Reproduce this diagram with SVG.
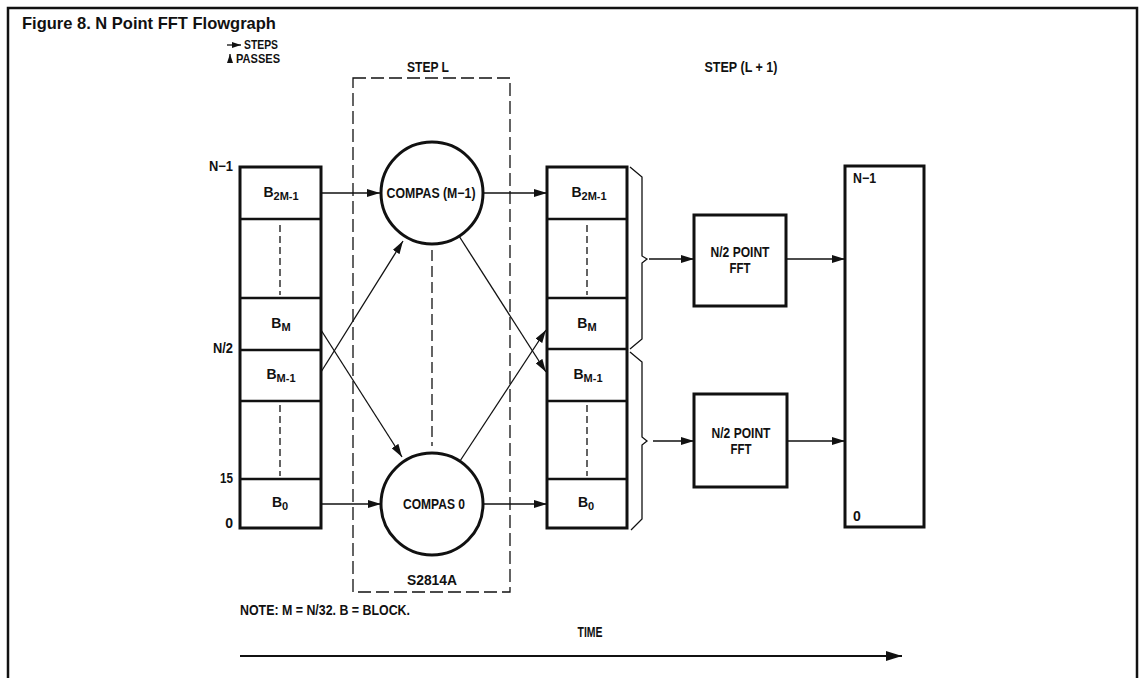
<svg xmlns="http://www.w3.org/2000/svg" width="1140" height="678" viewBox="0 0 1140 678">
<defs>
<marker id="ah" markerUnits="userSpaceOnUse" markerWidth="13" markerHeight="8" refX="13" refY="4" orient="auto"><path d="M0,0 L13,4 L0,8 z" fill="#111"/></marker>
<marker id="ahs" markerUnits="userSpaceOnUse" markerWidth="9" markerHeight="6" refX="9" refY="3" orient="auto"><path d="M0,0 L9,3 L0,6 z" fill="#111"/></marker>
<marker id="ahb" markerUnits="userSpaceOnUse" markerWidth="16" markerHeight="10" refX="16" refY="5" orient="auto"><path d="M0,0 L16,5 L0,10 z" fill="#111"/></marker>
</defs>
<style>
.t{font-family:"Liberation Sans",Arial,sans-serif;font-weight:bold;font-size:14px;fill:#111}
.lg{font-size:12px}
.m{text-anchor:middle}
.e{text-anchor:end}
.sub{font-size:11px}
.box{fill:#fff;stroke:#111;stroke-width:3}
.div{stroke:#111;stroke-width:2.5}
.dash{stroke:#111;stroke-width:1.3;stroke-dasharray:7 4;fill:none}
.con{stroke:#111;stroke-width:1.3;fill:none;marker-end:url(#ah)}
.brace{stroke:#111;stroke-width:1.3;fill:none}
</style>
<rect width="1140" height="678" fill="#fff"/>
<path d="M8,680 V8 H1137 V680" fill="none" stroke="#111" stroke-width="2.5"/>
<text x="22" y="29" style="font-family:'Liberation Sans',Arial,sans-serif;font-weight:bold;font-size:16.5px;fill:#111">Figure 8. N Point FFT Flowgraph</text>

<g id="legend">
<line x1="227" y1="45" x2="241" y2="45" stroke="#111" stroke-width="1.3" marker-end="url(#ahs)"/>
<text class="t lg" x="244" y="49" textLength="34" lengthAdjust="spacingAndGlyphs">STEPS</text>
<line x1="230" y1="63" x2="230" y2="54" stroke="#111" stroke-width="1.3" marker-end="url(#ahs)"/>
<text class="t lg" x="236" y="63" textLength="44" lengthAdjust="spacingAndGlyphs">PASSES</text>
</g>

<g id="step-l">
<rect x="353" y="78" width="157" height="514" class="dash" style="stroke-dasharray:13 5"/>
<text class="t m" x="428" y="72" textLength="42" lengthAdjust="spacingAndGlyphs">STEP L</text>
<text class="t m" x="432" y="585" textLength="50" lengthAdjust="spacingAndGlyphs">S2814A</text>
<line x1="432" y1="250" x2="432" y2="446" class="dash" style="stroke-dasharray:11 5"/>
</g>

<g id="left-blocks">
<rect x="240" y="167" width="81" height="361" class="box"/>
<line x1="240" y1="219" x2="321" y2="219" class="div"/>
<line x1="240" y1="298" x2="321" y2="298" class="div"/>
<line x1="240" y1="350" x2="321" y2="350" class="div"/>
<line x1="240" y1="401" x2="321" y2="401" class="div"/>
<line x1="240" y1="479" x2="321" y2="479" class="div"/>
<line x1="280" y1="225" x2="280" y2="295" class="dash"/>
<line x1="280" y1="405" x2="280" y2="476" class="dash"/>
<text class="t m" x="281" y="197">B<tspan class="sub" dy="3">2M-1</tspan></text>
<text class="t m" x="281" y="328">B<tspan class="sub" dy="3">M</tspan></text>
<text class="t m" x="281" y="379">B<tspan class="sub" dy="3">M-1</tspan></text>
<text class="t m" x="280" y="507">B<tspan class="sub" dy="3">0</tspan></text>
<text class="t e" x="233" y="171" textLength="24" lengthAdjust="spacingAndGlyphs">N−1</text>
<text class="t e" x="233" y="353" textLength="20" lengthAdjust="spacingAndGlyphs">N/2</text>
<text class="t e" x="233" y="483" textLength="13" lengthAdjust="spacingAndGlyphs">15</text>
<text class="t e" x="233" y="528">0</text>
</g>

<g id="compas-m1">
<circle cx="432" cy="193" r="51" class="box"/>
<text class="t m" x="431" y="198" textLength="89" lengthAdjust="spacingAndGlyphs">COMPAS (M−1)</text>
</g>
<g id="compas-0">
<circle cx="432" cy="504" r="51" class="box"/>
<text class="t m" x="434" y="509" textLength="62" lengthAdjust="spacingAndGlyphs">COMPAS 0</text>
</g>

<g id="right-blocks">
<rect x="547" y="167" width="80" height="361" class="box"/>
<line x1="547" y1="219" x2="627" y2="219" class="div"/>
<line x1="547" y1="298" x2="627" y2="298" class="div"/>
<line x1="547" y1="349" x2="627" y2="349" class="div"/>
<line x1="547" y1="401" x2="627" y2="401" class="div"/>
<line x1="547" y1="479" x2="627" y2="479" class="div"/>
<line x1="587" y1="225" x2="587" y2="295" class="dash"/>
<line x1="587" y1="405" x2="587" y2="476" class="dash"/>
<text class="t m" x="589" y="197">B<tspan class="sub" dy="3">2M-1</tspan></text>
<text class="t m" x="587" y="328">B<tspan class="sub" dy="3">M</tspan></text>
<text class="t m" x="588" y="379">B<tspan class="sub" dy="3">M-1</tspan></text>
<text class="t m" x="586" y="507">B<tspan class="sub" dy="3">0</tspan></text>
</g>

<g id="step-l1">
<text class="t m" x="741" y="72" textLength="73" lengthAdjust="spacingAndGlyphs">STEP (L + 1)</text>
</g>

<g id="fft-upper">
<rect x="694" y="215" width="92" height="91" class="box"/>
<text class="t m" x="740" y="257" textLength="59" lengthAdjust="spacingAndGlyphs">N/2 POINT</text>
<text class="t m" x="740" y="273" textLength="21" lengthAdjust="spacingAndGlyphs">FFT</text>
</g>
<g id="fft-lower">
<rect x="694" y="394" width="93" height="93" class="box"/>
<text class="t m" x="741" y="438" textLength="59" lengthAdjust="spacingAndGlyphs">N/2 POINT</text>
<text class="t m" x="741" y="454" textLength="21" lengthAdjust="spacingAndGlyphs">FFT</text>
</g>

<g id="output">
<rect x="845" y="166" width="79" height="361" class="box"/>
<text class="t" x="853" y="183" textLength="23" lengthAdjust="spacingAndGlyphs">N−1</text>
<text class="t" x="853" y="521">0</text>
</g>

<g id="connectors">
<path class="con" d="M321,193 H380"/>
<path class="con" d="M483,193 H547"/>
<path class="con" d="M321,504 H381"/>
<path class="con" d="M483,504 H547"/>
<path class="con" d="M321,372 L403,241"/>
<path class="con" d="M321,330 L402,457"/>
<path class="con" d="M459,236 L546,372"/>
<path class="con" d="M460,461 L546,330"/>
<path class="brace" d="M630,167 L642,177 V256 L647,259 L642,263 V339 L630,349"/>
<path class="brace" d="M630,352 L642,362 V437 L647,441 L642,445 V519 L631,530"/>
<path class="con" d="M649,259 H694"/>
<path class="con" d="M653,441 H694"/>
<path class="con" d="M786,259 H845"/>
<path class="con" d="M787,441 H845"/>
</g>

<g id="time">
<text class="t" x="240" y="615" textLength="170" lengthAdjust="spacingAndGlyphs">NOTE: M = N/32. B = BLOCK.</text>
<text class="t m" x="590" y="637" textLength="25" lengthAdjust="spacingAndGlyphs">TIME</text>
<line x1="240" y1="656" x2="902" y2="656" stroke="#111" stroke-width="2" marker-end="url(#ahb)"/>
</g>
</svg>
